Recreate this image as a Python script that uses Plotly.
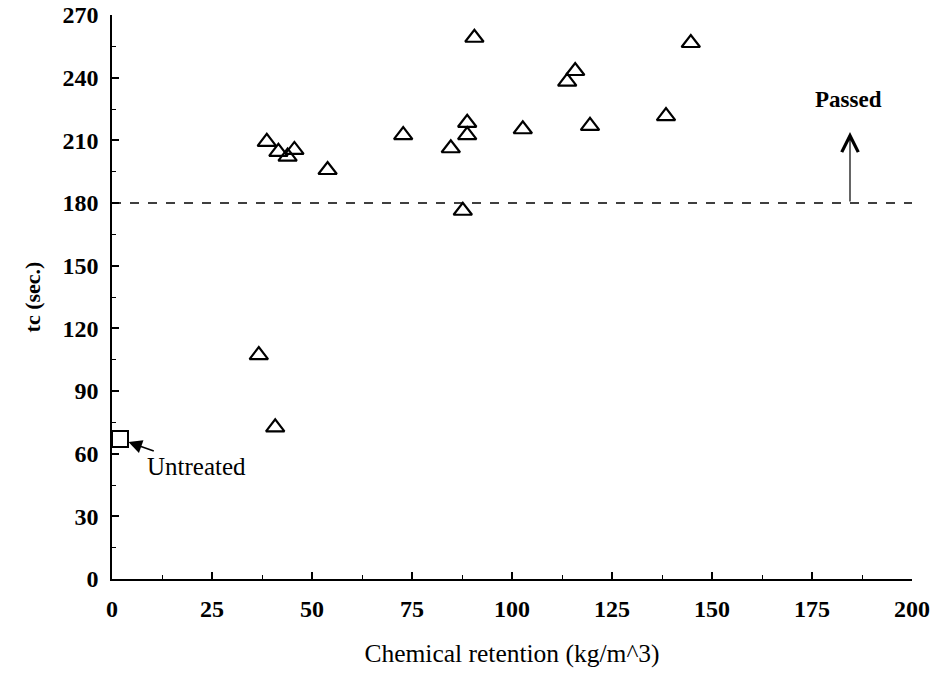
import plotly.graph_objects as go

# Treated specimens: chemical retention (kg/m^3) vs tc (sec.)
treated_x = [38.7, 41.6, 43.9, 45.6, 53.9, 72.8, 84.7, 88.8, 88.8, 87.7,
             90.6, 102.7, 113.8, 115.8, 119.5, 138.5, 144.7, 36.7, 40.8]
treated_y = [209.3, 204.5, 202.2, 205.4, 195.8, 212.5, 206.2, 218.4, 212.5, 176.3,
             259.1, 215.3, 238.1, 243.2, 216.9, 221.6, 256.6, 107.2, 72.6]

# Untreated specimen
untreated_x = [2.0]
untreated_y = [67.0]

pass_threshold = 180
x_ticks = [0, 25, 50, 75, 100, 125, 150, 175, 200]
y_ticks = [0, 30, 60, 90, 120, 150, 180, 210, 240, 270]

serif = "Liberation Serif, Times New Roman, serif"

fig = go.Figure()

fig.add_trace(go.Scatter(
    x=treated_x, y=treated_y, mode="markers",
    marker=dict(symbol="triangle-up-open", size=16, color="black",
                line=dict(width=2.2, color="black")),
    showlegend=False, hoverinfo="x+y", cliponaxis=False))

fig.add_trace(go.Scatter(
    x=untreated_x, y=untreated_y, mode="markers",
    marker=dict(symbol="square-open", size=16, color="black",
                line=dict(width=2, color="black")),
    showlegend=False, hoverinfo="x+y", cliponaxis=False))

# threshold line
fig.add_shape(type="line", xref="x", yref="y", x0=0, x1=200,
              y0=pass_threshold, y1=pass_threshold,
              line=dict(color="black", width=1.5, dash="dash"))

# Passed arrow
fig.add_annotation(x=184.5, y=214, ax=184.5, ay=pass_threshold,
                   xref="x", yref="y", axref="x", ayref="y",
                   text="", showarrow=True, arrowhead=5, arrowsize=2.7,
                   arrowwidth=1.2, arrowcolor="black")
fig.add_annotation(x=184, y=229.5, xref="x", yref="y", text="<b>Passed</b>",
                   showarrow=False, font=dict(family=serif, size=23, color="black"))

# Untreated label
fig.add_annotation(x=untreated_x[0], y=untreated_y[0], xref="x", yref="y",
                   text="Untreated", showarrow=True, ax=76, ay=27,
                   arrowhead=2, arrowsize=1.8, arrowwidth=1.5, arrowcolor="black",
                   standoff=9, font=dict(family=serif, size=25, color="black"))

fig.update_xaxes(range=[0, 200], tickvals=x_ticks, ticks="inside", ticklen=7,
                 tickwidth=1.5, tickcolor="black", showline=True, linecolor="black",
                 linewidth=1.5, showgrid=False, zeroline=False, automargin=False,
                 minor=dict(ticks="inside", ticklen=4, tickwidth=1.2, tickcolor="black", dtick=12.5, tick0=0),
                 tickfont=dict(family=serif, size=24, color="black", weight="bold"),
                 ticklabelstandoff=7, ticklabeloverflow="allow",
                 title=dict(text="Chemical retention (kg/m^3)", standoff=24,
                            font=dict(family=serif, size=25.5, color="black")))
fig.update_yaxes(range=[0, 270], tickvals=y_ticks, ticks="inside", ticklen=7,
                 tickwidth=1.5, tickcolor="black", showline=True, linecolor="black",
                 linewidth=1.5, showgrid=False, zeroline=False, automargin=False,
                 minor=dict(ticks="inside", ticklen=4, tickwidth=1.2, tickcolor="black", dtick=15, tick0=0),
                 tickfont=dict(family=serif, size=24, color="black", weight="bold"),
                 ticklabelstandoff=7, ticklabeloverflow="allow",
                 title=dict(text="<b>tc (sec.)</b>", standoff=16,
                            font=dict(family=serif, size=22, color="black")))

fig.update_layout(width=936, height=695, margin=dict(l=112, r=24, t=15, b=116),
                  plot_bgcolor="white", paper_bgcolor="white")

# remove the default page margin so the figure fills the 936x695 window exactly
fig.write_html("out.html", config={"displayModeBar": False},
               post_script="document.body.style.margin='0';")
